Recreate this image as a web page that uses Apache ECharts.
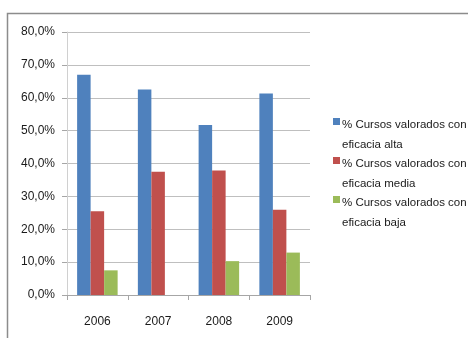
<!DOCTYPE html>
<html>
<head>
<meta charset="utf-8">
<script src="https://cdn.jsdelivr.net/npm/echarts@6/dist/echarts.min.js"></script>
<style>
  html, body { margin: 0; padding: 0; background: #fff; }
  #chart { width: 469px; height: 338px; }
</style>
</head>
<body>
<div id="chart"></div>
<script>
// datos del gráfico
const years = ['2006', '2007', '2008', '2009']
const seriesNames = [
  '% Cursos valorados con\neficacia alta',
  '% Cursos valorados con\neficacia media',
  '% Cursos valorados con\neficacia baja',
]
const alta = [67.0, 62.5, 51.7, 61.3]
const media = [25.5, 37.5, 37.9, 25.9]
const baja = [7.5, 0, 10.3, 12.9]
const colors = ['#4F81BD', '#C0504D', '#9BBB59']

const font = 'Liberation Sans, Arial, sans-serif'
const values = [alta, media, baja]

let mychart = echarts.init(document.getElementById('chart'))

// leyenda dibujada a mano para que el cuadro quede en la primera línea
let legendItems = []
seriesNames.forEach((name, i) => {
  let top = 115 + i * 39
  legendItems.push({
    type: 'rect',
    left: 333,
    top: top + 3,
    shape: { width: 7, height: 7 },
    style: { fill: colors[i] },
  })
  legendItems.push({
    type: 'text',
    left: 342,
    top: top,
    style: {
      text: name,
      font: '11.5px ' + font,
      fill: '#1a1a1a',
      lineHeight: 20,
    },
  })
})

let option = {
  animation: false,
  textStyle: { fontFamily: font },
  grid: { left: 67, right: 159, top: 32, bottom: 43 },
  graphic: [
    {
      type: 'polyline',
      shape: { points: [[7.5, 338], [7.5, 13.5], [468, 13.5]] },
      style: { stroke: '#8c8c8c', lineWidth: 1.5, fill: null },
    },
    ...legendItems,
  ],
  xAxis: {
    type: 'category',
    data: years,
    axisLine: { lineStyle: { color: '#a6a6a6' } },
    axisTick: { show: true, length: 5, lineStyle: { color: '#a6a6a6' } },
    axisLabel: { color: '#1a1a1a', fontSize: 12, margin: 21 },
  },
  yAxis: {
    type: 'value',
    min: 0,
    max: 80,
    interval: 10,
    axisLine: { show: true, lineStyle: { color: '#d0d0d0' } },
    axisTick: { show: true, length: 5, lineStyle: { color: '#a6a6a6' } },
    axisLabel: {
      color: '#1a1a1a',
      fontSize: 12,
      margin: 12,
      formatter: (v) => v.toFixed(1).replace('.', ',') + '%',
    },
    splitLine: { lineStyle: { color: '#bfbfbf' } },
  },
  series: values.map((data, i) => ({
    name: seriesNames[i],
    type: 'bar',
    data: data,
    barGap: 0,
    barCategoryGap: '33.3%',
    itemStyle: { color: colors[i] },
  })),
}
mychart.setOption(option)
</script>
</body>
</html>
